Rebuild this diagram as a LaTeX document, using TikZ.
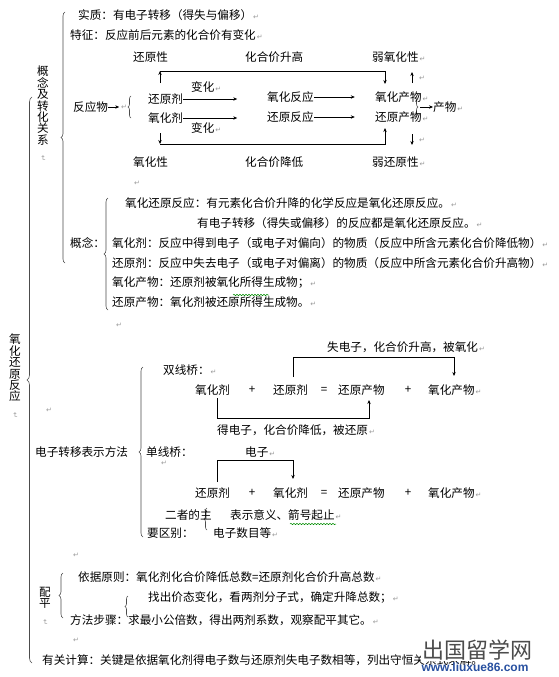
\documentclass[tikz,border=0pt]{standalone}
\usepackage{fontspec}
\newfontfamily\cjkfont{Noto Sans CJK SC}
\newfontfamily\djvfont{DejaVu Sans}
\newfontfamily\wmfont{Liberation Sans}
\usetikzlibrary{arrows.meta,decorations.pathreplacing,decorations.pathmorphing}
\newcommand\retmark{\hspace{1pt}{\djvfont\color{black!40}\fontsize{7}{7}\selectfont ↵}}
\newcommand\vretmark{{\djvfont\color{black!40}\fontsize{7}{7}\selectfont\rotatebox{-90}{↵}}}
\tikzset{
  txt/.style={anchor=west,inner sep=0pt,font=\cjkfont\fontsize{11.6}{14}\selectfont},
  ctxt/.style={anchor=center,inner sep=0pt,font=\cjkfont\fontsize{11.6}{14}\selectfont},
  vtxt/.style={anchor=north,inner sep=0pt,align=center,font=\cjkfont\fontsize{11.6}{11.4}\selectfont},
  arr/.style={-{Stealth[length=4pt,width=3.4pt]},line width=0.7pt},
  ln/.style={line width=0.7pt},
  brc/.style={decorate,decoration={brace,amplitude=#1},line width=0.6pt,draw=black!70},
  brc/.default=4pt,
  wavy/.style={draw=green!55!black,line width=0.5pt,decorate,decoration={snake,amplitude=0.7pt,segment length=3pt}},
  rm/.style={anchor=west,inner sep=0pt}
}
\begin{document}
\begin{tikzpicture}[x=1pt,y=-1pt]
\fill[white] (0,0) rectangle (558,677);
\useasboundingbox (0,0) rectangle (558,677);

% ---------- vertical titles ----------
\node[vtxt] (vmain) at (15,334) {氧\\化\\还\\原\\反\\应\\\vretmark};
\node[vtxt] (vgn) at (43,66) {概\\念\\及\\转\\化\\关\\系\\\vretmark};
\node[vtxt] (vpp) at (45,587) {配\\平\\\vretmark};

% ---------- braces ----------
\draw[brc=5pt] (32,663) -- (32,97);
\draw[brc] (65,263) -- (65,12);
\draw[brc] (108,310) -- (108,198);
\draw[brc] (143,537) -- (143,367);
\draw[brc] (63,618) -- (63,573);
\draw[brc=3pt] (128,617) -- (128,596);
\draw[brc=3pt] (131,118) -- (131,96);
\draw[brc=3pt] (207,530) -- (207,508);
\draw[brc=3pt] (415,97) -- (415,117);

% ---------- top section ----------
\node[txt] (sz) at (78,15) {实质：有电子转移（得失与偏移）\retmark};
\node[txt] (tz) at (70,35) {特征：反应前后元素的化合价有变化\retmark};

\node[txt] (hyx) at (133,57) {还原性};
\node[txt] (sg) at (245,57) {化合价升高};
\node[txt] (ryh) at (372,57) {弱氧化性\retmark};

\node[txt] (fyw) at (73,107) {反应物};
\draw[arr] (fyw.east) -- ++(11,0) coordinate (fywa);
\node[rm] (fywr) at (120,107) {\retmark};

\node[txt] (hy) at (148,99) {还原剂};
\node[txt] (oy) at (148,118) {氧化剂};
\node[txt] (bh1) at (191,87) {变化\retmark};
\node[txt] (bh2) at (191,128) {变化\retmark};
\draw[arr] (hy.east) -- ++(54,0) coordinate (hya);
\draw[arr] (oy.east) -- ++(54,0) coordinate (oya);

\node[txt] (yfy) at (267,97) {氧化反应};
\node[txt] (hfy) at (267,117) {还原反应};
\draw[arr] (yfy.east) -- ++(41,0) coordinate (yfya);
\draw[arr] (hfy.east) -- ++(41,0) coordinate (hfya);

\node[txt] (ycw) at (375,97) {氧化产物\retmark};
\node[txt] (hcw) at (375,117) {还原产物\retmark};
\coordinate (cwb) at (420,107);
\node[txt] (cw) at (433,107) {产物\retmark};
\draw[arr] (cwb) -- (cw.west);

\coordinate (up1) at (412,83);
\coordinate (up2) at (412,72);
\draw[arr] (up1) -- (up2);
\node[rm] (upr) at (418,78) {\retmark};
\coordinate (dn1) at (412,134);
\coordinate (dn2) at (412,145);
\draw[arr] (dn1) -- (dn2);
\node[rm] (dnr) at (418,140) {\retmark};

\coordinate (t0) at (160,83);
\coordinate (t1) at (160,71);
\coordinate (t2) at (385,71);
\coordinate (t3) at (385,84);
\draw[arr] (t0) -- (t1);
\draw[arr] (t1) -- (t2) -- (t3);

\coordinate (b0) at (160,133);
\coordinate (b1) at (160,144);
\coordinate (b2) at (385,144);
\coordinate (b3) at (385,128);
\draw[arr] (b0) -- (b1);
\draw[arr] (b1) -- (b2) -- (b3);

\node[txt] (yhx) at (133,162) {氧化性};
\node[txt] (jd) at (245,162) {化合价降低};
\node[txt] (rhy) at (372,162) {弱还原性\retmark};
\node[rm] (r1) at (133,183) {\retmark};

% ---------- concept section ----------
\node[txt] (gn) at (70,243) {概念：};
\node[txt] (c1) at (125,203) {氧化还原反应：有元素化合价升降的化学反应是氧化还原反应。\retmark};
\node[txt] (c2) at (197,223) {有电子转移（得失或偏移）的反应都是氧化还原反应。\retmark};
\node[txt] (c3) at (112,243) {氧化剂：反应中得到电子（或电子对偏向）的物质（反应中所含元素化合价降低物）\retmark};
\node[txt] (c4) at (112,263) {还原剂：反应中失去电子（或电子对偏离）的物质（反应中所含元素化合价升高物）\retmark};
\node[txt] (c5) at (112,283) {氧化产物：还原剂被氧化所得生成物；\retmark};
\node[txt] (c6) at (112,302) {还原产物：氧化剂被还原所得生成物。\retmark};
\draw[wavy] (233,295) -- (269,295);
\node[rm] (r2) at (115,325) {\retmark};

% ---------- electron transfer ----------
\node[rm] (r3) at (45,410) {\retmark};
\node[txt] (dz) at (35,452) {电子转移表示方法};
\node[txt] (sxq) at (163,370) {双线桥：\retmark};

\node[txt] (a1) at (195,390) {氧化剂};
\node[ctxt] (a2) at (252,390) {+};
\node[txt] (a3) at (273,390) {还原剂};
\node[ctxt] (a4) at (324,390) {=};
\node[txt] (a5) at (338,390) {还原产物};
\node[ctxt] (a6) at (408,390) {+};
\node[txt] (a7) at (428,390) {氧化产物\retmark};

\coordinate (u0) at (293,377);
\coordinate (u1) at (293,357);
\coordinate (u2) at (454,357);
\coordinate (u3) at (454,376);
\draw[arr] (u0) -- (u1) -- (u2) -- (u3);
\node[txt] (ul) at (327,347) {失电子，化合价升高，被氧化\retmark};

\coordinate (w0) at (217,398);
\coordinate (w1) at (217,418);
\coordinate (w2) at (369,418);
\coordinate (w3) at (369,400);
\draw[arr] (w0) -- (w1) -- (w2) -- (w3);
\node[txt] (wl) at (217,430) {得电子，化合价降低，被还原\retmark};

\node[txt] (dxq) at (146,452) {单线桥：};
\node[txt] (dzl) at (245,452) {电子\retmark};
\node[rm] (r4) at (160,463) {\retmark};

\coordinate (s0) at (217,482);
\coordinate (s1) at (217,460);
\coordinate (s2) at (293,460);
\coordinate (s3) at (293,479);
\draw[arr] (s0) -- (s1) -- (s2) -- (s3);

\node[txt] (d1) at (195,493) {还原剂};
\node[ctxt] (d2) at (252,493) {+};
\node[txt] (d3) at (273,493) {氧化剂};
\node[ctxt] (d4) at (324,493) {=};
\node[txt] (d5) at (338,493) {还原产物};
\node[ctxt] (d6) at (408,493) {+};
\node[txt] (d7) at (428,493) {氧化产物\retmark};

\node[txt] (ez) at (165,515) {二者的主};
\node[txt] (ez2) at (230,515) {表示意义、箭号起止\retmark};
\draw[wavy] (290,524) -- (336,524);
\node[txt] (yqb) at (147,533) {要区别：};
\node[txt] (dzs) at (213,533) {电子数目等\retmark};

% ---------- balancing ----------
\node[rm] (r5) at (72,555) {\retmark};
\node[txt] (yj) at (78,577) {依据原则：氧化剂化合价降低总数=还原剂化合价升高总数\retmark};
\node[txt] (zc) at (148,598) {找出价态变化，看两剂分子式，确定升降总数；\retmark};
\node[txt] (ff) at (70,620) {方法步骤：求最小公倍数，得出两剂系数，观察配平其它。\retmark};
\node[rm] (r6) at (72,640) {\retmark};
\node[txt] (yg) at (42,660) {有关计算：关键是依据氧化剂得电子数与还原剂失电子数相等，列出守恒关系式求解。};

% ---------- watermark ----------
\node[anchor=center,inner sep=1pt,fill=white,font=\cjkfont\fontsize{22}{22}\selectfont,text=black!70] (wm1) at (477,650) {出国留学网};
\node[anchor=center,inner sep=0pt,font=\wmfont\bfseries\fontsize{12}{12}\selectfont,text={rgb,255:red,40;green,80;blue,160}] (wm2) at (475,667) {www.liuxue86.com};
\end{tikzpicture}
\end{document}
